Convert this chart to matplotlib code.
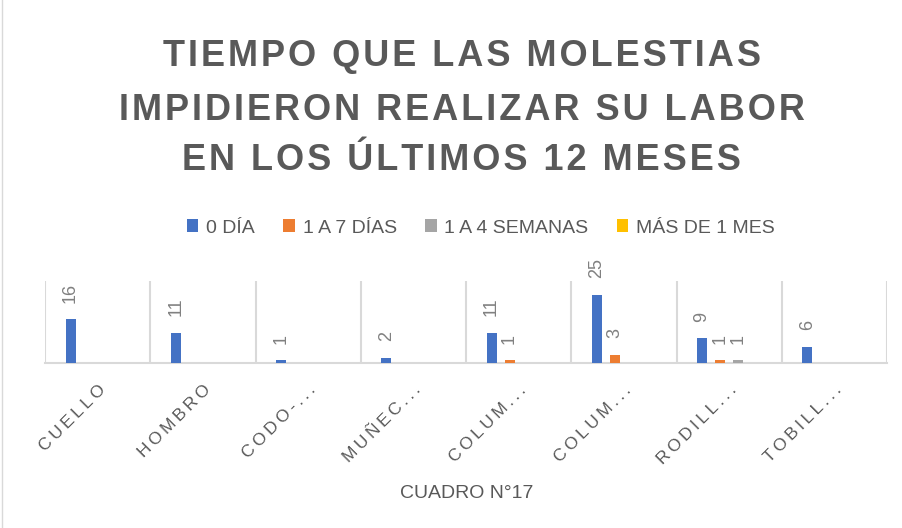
import numpy as np
import matplotlib.pyplot as plt

# ---------- Data ----------
categories = ["CUELLO", "HOMBRO", "CODO-...", "MUÑEC...", "COLUM...", "COLUM...", "RODILL...", "TOBILL..."]
series_names = ["0 DÍA", "1 A 7 DÍAS", "1 A 4 SEMANAS", "MÁS DE 1 MES"]
dia_0 = [16, 11, 1, 2, 11, 25, 9, 6]
dias_1_7 = [0, 0, 0, 0, 1, 3, 1, 0]
semanas_1_4 = [0, 0, 0, 0, 0, 0, 1, 0]
mas_1_mes = [0, 0, 0, 0, 0, 0, 0, 0]
colors = ["#4472C4", "#ED7D31", "#A5A5A5", "#FFC000"]
title_lines = ["TIEMPO QUE LAS MOLESTIAS", "IMPIDIERON REALIZAR SU LABOR", "EN LOS ÚLTIMOS 12 MESES"]

TXT = "#595959"
plt.rcParams['font.family'] = ['Liberation Sans', 'DejaVu Sans']


def spaced(s, sep="\u2009"):
    """Spread letters a bit, like the Excel style."""
    return sep.join(s)


fig = plt.figure(figsize=(9.02, 5.28), dpi=100)
ax = fig.add_axes([45 / 902, 1 - 363 / 528, (887 - 45) / 902, (363 - 281) / 528])

x = np.arange(len(categories))
width = 0.095
offsets = [-0.257, -0.086, 0.086, 0.257]
all_series = [dia_0, dias_1_7, semanas_1_4, mas_1_mes]

for vals, off, col, name in zip(all_series, offsets, colors, series_names):
    bars = ax.bar(x + off, vals, width=width, color=col, label=name, zorder=3)
    for b, v in zip(bars, vals):
        if v > 0:
            ax.annotate(str(v), (b.get_x() + b.get_width() / 2, v), xytext=(0, 12),
                        textcoords="offset points", rotation=90, ha="center", va="bottom",
                        fontsize=13, color="#808080")

ax.set_xlim(-0.5, len(categories) - 0.5)
ax.set_ylim(0, 30)
ax.set_yticks([])
ax.set_xticks(x)
ax.set_xticklabels([spaced(c) for c in categories], rotation=45, ha="right",
                   rotation_mode="anchor", fontsize=12.5, color=TXT)
ax.tick_params(axis="x", length=0, pad=14)

# category separators
for b in np.arange(-0.5, len(categories) + 0.5, 1):
    ax.axvline(b, color="#D9D9D9", lw=1.5, zorder=1)
for s in ["top", "right", "left"]:
    ax.spines[s].set_visible(False)
ax.spines["bottom"].set_color("#D9D9D9")
ax.spines["bottom"].set_linewidth(1.5)

# title
for line, yy in zip(title_lines, [57, 110, 160]):
    fig.text(0.512, 1 - yy / 528, spaced(line, "\u200a"), ha="center", va="center",
             fontsize=26, fontweight="bold", color=TXT)

# legend
leg = fig.legend(loc="center", bbox_to_anchor=(0.533, 1 - 228 / 528), ncol=4, frameon=False,
                 fontsize=14, handlelength=0.6, handleheight=0.6, handletextpad=0.4,
                 columnspacing=1.45, labelcolor=TXT)

fig.text(0.517, 1 - 493 / 528, "CUADRO N°17", ha="center", va="center", fontsize=14, color=TXT)

# chart border on the left
fig.add_artist(plt.Line2D([2 / 902, 2 / 902], [0, 1], color="#D9D9D9", lw=1))

fig.savefig("out.png", dpi=100)
